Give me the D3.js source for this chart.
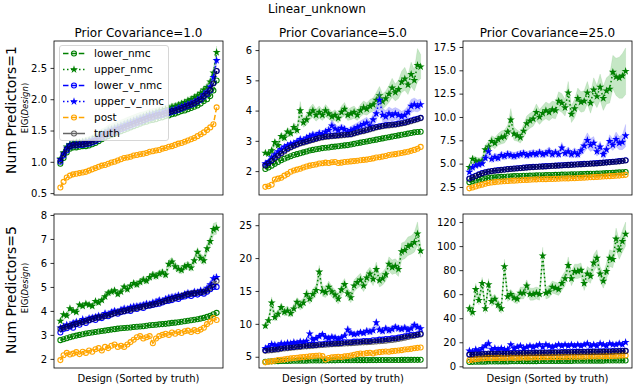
<!DOCTYPE html>
<html>
<head>
<meta charset="utf-8">
<script src="https://cdn.jsdelivr.net/npm/d3@7"></script>
<style>
  body { margin: 0; background: #fff; }
  text { font-family: "DejaVu Sans", sans-serif; fill: #000; }
</style>
</head>
<body>
<svg id="chart" width="634" height="386"></svg>
<script>
/* global d3 */

const suptitle = 'Linear_unknown';
const colTitles = ['Prior Covariance=1.0', 'Prior Covariance=5.0', 'Prior Covariance=25.0'];
const rowTitles = ['Num Predictors=1', 'Num Predictors=5'];
const xLabel = 'Design (Sorted by truth)';
const seriesNames = ['lower_nmc', 'upper_nmc', 'lower_v_nmc', 'upper_v_nmc', 'post', 'truth'];

// y tick labels per panel
const ticks11 = [0.5, 1.0, 1.5, 2.0, 2.5];
const ticks12 = [2, 3, 4, 5, 6];
const ticks13 = [2.5, 5.0, 7.5, 10.0, 12.5, 15.0, 17.5];
const ticks21 = [2, 3, 4, 5, 6, 7, 8];
const ticks22 = [5, 10, 15, 20, 25];
const ticks23 = [0, 20, 40, 60, 80, 100, 120];

// ---- Num Predictors=1, Prior Covariance=1.0
const lowerNmc11 = [0.97,1.06,1.15,1.21,1.23,1.23,1.24,1.25,1.25,1.26,1.28,1.30,1.33,1.36,1.39,1.41,1.43,1.45,1.47,1.49,1.51,1.53,1.55,1.57,1.59,1.61,1.63,1.64,1.66,1.67,1.68,1.70,1.71,1.73,1.74,1.76,1.77,1.79,1.81,1.82,1.84,1.86,1.88,1.90,1.93,1.97,2.00,2.05,2.14,2.30];
const upperNmc11 = [1.05,1.15,1.24,1.28,1.30,1.31,1.31,1.32,1.33,1.34,1.36,1.39,1.41,1.45,1.47,1.50,1.52,1.54,1.56,1.58,1.60,1.62,1.64,1.66,1.68,1.70,1.72,1.74,1.76,1.77,1.79,1.81,1.82,1.84,1.85,1.88,1.89,1.91,1.93,1.95,1.98,2.00,2.03,2.06,2.10,2.15,2.19,2.28,2.42,2.75];
const lowerVNmc11 = [1.00,1.10,1.18,1.24,1.26,1.26,1.27,1.27,1.28,1.29,1.31,1.33,1.36,1.39,1.42,1.44,1.46,1.48,1.50,1.52,1.54,1.56,1.58,1.60,1.62,1.64,1.66,1.68,1.70,1.71,1.73,1.74,1.75,1.77,1.78,1.80,1.81,1.83,1.85,1.87,1.89,1.91,1.93,1.96,1.99,2.04,2.08,2.14,2.26,2.45];
const upperVNmc11 = [1.04,1.13,1.22,1.27,1.28,1.29,1.29,1.30,1.31,1.32,1.34,1.36,1.39,1.42,1.45,1.47,1.49,1.51,1.53,1.55,1.57,1.59,1.61,1.63,1.65,1.67,1.69,1.71,1.73,1.74,1.76,1.77,1.78,1.80,1.81,1.83,1.84,1.86,1.88,1.90,1.92,1.94,1.96,1.99,2.02,2.08,2.12,2.20,2.35,2.62];
const post11 = [0.59,0.68,0.75,0.78,0.80,0.81,0.82,0.83,0.84,0.86,0.88,0.90,0.92,0.94,0.95,0.97,0.99,1.00,1.02,1.04,1.06,1.07,1.08,1.10,1.11,1.12,1.13,1.14,1.16,1.17,1.18,1.19,1.21,1.22,1.24,1.25,1.27,1.29,1.30,1.32,1.34,1.36,1.38,1.41,1.44,1.47,1.51,1.55,1.60,1.87];
const truth11 = [1.02,1.12,1.20,1.25,1.27,1.27,1.28,1.28,1.29,1.30,1.32,1.34,1.37,1.40,1.43,1.45,1.47,1.49,1.51,1.53,1.55,1.57,1.59,1.61,1.63,1.65,1.67,1.69,1.71,1.72,1.74,1.75,1.76,1.78,1.79,1.81,1.82,1.84,1.86,1.88,1.90,1.92,1.94,1.97,2.00,2.05,2.09,2.15,2.25,2.45];
const bandU11 = [0.03,0.03,0.04,0.04,0.04,0.05,0.05,0.05,0.06,0.06,0.07,0.07,0.08,0.08,0.08,0.09,0.09,0.09,0.09,0.09,0.09,0.09,0.09,0.09,0.09,0.09,0.08,0.08,0.08,0.08,0.07,0.07,0.06,0.06,0.06,0.05,0.05,0.05,0.05,0.05,0.05,0.05,0.05,0.05,0.06,0.06,0.06,0.07,0.08,0.10];
const bandV11 = [0.02,0.02,0.03,0.03,0.03,0.04,0.04,0.04,0.05,0.05,0.06,0.06,0.07,0.07,0.07,0.08,0.08,0.08,0.08,0.08,0.08,0.08,0.08,0.08,0.08,0.08,0.07,0.07,0.07,0.07,0.06,0.06,0.05,0.05,0.05,0.04,0.04,0.04,0.04,0.04,0.04,0.04,0.04,0.04,0.05,0.05,0.05,0.06,0.07,0.08];

// ---- Num Predictors=1, Prior Covariance=5.0
const lowerNmc12 = [2.07,2.12,2.18,2.24,2.30,2.36,2.41,2.45,2.49,2.53,2.56,2.59,2.62,2.65,2.68,2.70,2.72,2.74,2.76,2.77,2.78,2.80,2.81,2.82,2.84,2.85,2.86,2.88,2.90,2.92,2.94,2.96,2.98,3.00,3.02,3.04,3.06,3.08,3.10,3.12,3.14,3.16,3.18,3.20,3.22,3.24,3.26,3.28,3.29,3.30];
const upperNmc12 = [2.60,2.58,2.68,2.95,2.85,3.15,3.10,3.30,3.25,3.45,3.35,4.00,3.60,3.70,3.90,4.00,3.85,3.95,3.85,4.00,3.90,3.80,3.85,3.75,3.95,4.05,3.85,3.90,3.95,3.85,4.00,4.10,4.05,4.15,4.20,4.35,4.50,4.30,4.40,4.55,4.75,4.60,4.70,4.95,5.05,4.85,5.20,5.00,5.50,5.45];
const lowerVNmc12 = [2.20,2.28,2.36,2.45,2.53,2.60,2.68,2.75,2.80,2.85,2.89,2.93,2.96,2.99,3.02,3.05,3.08,3.11,3.13,3.15,3.16,3.17,3.18,3.19,3.20,3.21,3.22,3.23,3.26,3.29,3.32,3.34,3.37,3.40,3.43,3.46,3.48,3.50,3.52,3.53,3.54,3.55,3.57,3.59,3.61,3.64,3.67,3.70,3.73,3.76];
const upperVNmc12 = [2.25,2.30,2.45,2.55,2.65,2.72,2.80,2.85,2.90,2.92,2.98,3.05,3.02,3.10,3.15,3.20,3.18,3.25,3.22,3.30,3.35,3.50,3.40,3.35,3.42,3.38,3.30,3.35,3.40,3.45,3.50,3.55,3.60,3.50,3.70,3.90,4.35,3.85,3.80,3.90,3.85,3.90,3.85,3.80,3.85,3.95,4.15,4.20,4.15,4.20];
const post12 = [1.48,1.50,1.55,1.72,1.75,1.78,1.85,1.90,1.98,2.02,2.05,2.08,2.12,2.15,2.18,2.20,2.22,2.25,2.26,2.28,2.27,2.29,2.30,2.27,2.28,2.30,2.31,2.32,2.33,2.34,2.36,2.37,2.38,2.40,2.42,2.45,2.46,2.48,2.50,2.53,2.55,2.56,2.58,2.60,2.62,2.64,2.67,2.70,2.74,2.80];
const truth12 = [2.18,2.25,2.33,2.42,2.50,2.57,2.65,2.72,2.78,2.83,2.87,2.91,2.94,2.97,3.00,3.03,3.06,3.09,3.11,3.13,3.14,3.15,3.16,3.17,3.18,3.19,3.20,3.21,3.24,3.27,3.30,3.32,3.35,3.38,3.41,3.44,3.46,3.48,3.50,3.51,3.52,3.53,3.55,3.57,3.59,3.62,3.65,3.68,3.71,3.75];
const bandU12 = [0.08,0.08,0.10,0.12,0.10,0.12,0.12,0.14,0.12,0.15,0.14,0.30,0.15,0.18,0.20,0.22,0.20,0.20,0.18,0.20,0.18,0.16,0.18,0.16,0.20,0.22,0.18,0.20,0.20,0.18,0.20,0.22,0.20,0.22,0.22,0.25,0.30,0.25,0.25,0.28,0.32,0.28,0.30,0.35,0.38,0.32,0.40,0.35,0.55,0.40];
const bandV12 = [0.05,0.05,0.06,0.06,0.07,0.07,0.08,0.08,0.08,0.08,0.09,0.10,0.09,0.10,0.10,0.11,0.10,0.12,0.11,0.12,0.13,0.20,0.14,0.13,0.14,0.13,0.12,0.13,0.14,0.15,0.16,0.17,0.18,0.16,0.20,0.25,0.30,0.22,0.20,0.22,0.20,0.20,0.20,0.18,0.18,0.20,0.22,0.22,0.20,0.18];

// ---- Num Predictors=1, Prior Covariance=25.0
const lowerNmc13 = [3.00,3.10,3.20,3.28,3.35,3.41,3.46,3.50,3.53,3.56,3.58,3.60,3.62,3.64,3.66,3.67,3.68,3.70,3.71,3.72,3.73,3.74,3.75,3.76,3.77,3.78,3.79,3.80,3.81,3.82,3.83,3.84,3.85,3.86,3.87,3.88,3.89,3.90,3.91,3.92,3.93,3.94,3.96,3.98,4.00,4.02,4.04,4.06,4.08,4.10];
const upperNmc13 = [4.6,5.5,5.3,5.2,5.3,6.5,6.8,7.4,7.2,7.6,7.8,7.9,8.4,9.7,8.2,8.0,7.8,8.5,9.3,9.6,9.8,10.5,10.0,10.4,10.7,10.5,10.8,10.7,11.7,11.5,11.0,12.6,10.3,10.9,12.0,11.6,11.7,12.6,11.5,12.9,12.2,13.2,12.0,12.8,13.0,14.8,14.3,14.2,14.4,14.9];
const lowerVNmc13 = [3.40,3.55,3.70,3.85,3.98,4.08,4.15,4.21,4.26,4.30,4.34,4.38,4.42,4.45,4.48,4.51,4.54,4.57,4.60,4.63,4.65,4.67,4.69,4.71,4.73,4.75,4.77,4.79,4.81,4.83,4.85,4.87,4.89,4.91,4.93,4.95,4.97,4.99,5.01,5.03,5.05,5.08,5.11,5.14,5.17,5.20,5.23,5.27,5.31,5.36];
const upperVNmc13 = [4.1,4.6,4.8,4.9,5.0,5.6,6.3,5.5,5.7,5.6,5.9,5.8,6.0,5.9,5.8,5.9,6.0,6.1,5.9,6.0,6.1,6.0,6.2,6.0,6.1,6.3,6.0,6.2,6.0,6.7,6.1,6.3,6.0,6.2,6.0,6.4,6.9,7.5,7.0,7.2,6.3,6.8,6.0,6.5,7.4,7.0,7.6,7.2,7.3,8.0];
const post13 = [2.35,2.45,2.55,2.65,2.75,2.85,2.92,2.98,3.02,3.06,3.09,3.12,3.14,3.16,3.18,3.20,3.22,3.24,3.26,3.28,3.30,3.31,3.32,3.33,3.34,3.35,3.36,3.37,3.38,3.40,3.41,3.42,3.43,3.44,3.46,3.48,3.50,3.52,3.54,3.56,3.58,3.60,3.62,3.64,3.66,3.68,3.70,3.72,3.75,3.80];
const truth13 = [3.35,3.50,3.65,3.80,3.95,4.05,4.12,4.18,4.23,4.27,4.31,4.35,4.39,4.42,4.45,4.48,4.51,4.54,4.57,4.60,4.62,4.64,4.66,4.68,4.70,4.72,4.74,4.76,4.78,4.80,4.82,4.84,4.86,4.88,4.90,4.92,4.94,4.96,4.98,5.00,5.02,5.05,5.08,5.11,5.14,5.17,5.20,5.24,5.28,5.33];
const bandU13 = [0.3,0.4,0.4,0.4,0.4,0.5,0.6,0.6,0.6,0.6,0.7,0.7,0.7,1.2,0.7,0.6,0.6,0.7,0.8,0.8,0.8,0.9,0.8,0.8,0.9,0.9,0.9,0.9,1.0,1.0,0.9,1.2,0.9,1.0,1.1,1.1,1.1,1.2,1.1,1.3,1.2,1.4,1.3,1.4,1.5,1.8,2.0,2.2,2.4,2.5];
const bandV13 = [0.2,0.3,0.3,0.3,0.3,0.4,0.7,0.4,0.4,0.4,0.4,0.4,0.4,0.4,0.4,0.4,0.4,0.4,0.4,0.4,0.4,0.4,0.4,0.4,0.4,0.5,0.4,0.4,0.4,0.6,0.4,0.5,0.4,0.5,0.4,0.5,0.7,0.8,0.7,0.7,0.5,0.6,0.5,0.6,0.7,0.6,0.8,0.7,0.8,1.2];

// ---- Num Predictors=5, Prior Covariance=1.0
const lowerNmc21 = [2.78,2.82,2.86,2.90,2.94,2.97,3.00,3.03,3.06,3.08,3.10,3.12,3.14,3.16,3.18,3.20,3.22,3.24,3.26,3.28,3.29,3.30,3.31,3.33,3.34,3.35,3.36,3.38,3.40,3.41,3.42,3.44,3.45,3.46,3.48,3.50,3.51,3.53,3.55,3.57,3.59,3.61,3.63,3.65,3.68,3.71,3.75,3.80,3.86,3.92];
const upperNmc21 = [3.58,3.85,3.80,4.10,4.00,3.95,4.25,4.20,4.30,4.25,4.20,4.40,4.35,4.45,4.60,4.75,4.80,4.85,4.70,4.80,5.00,4.90,5.05,5.15,5.10,5.20,5.30,5.25,5.40,5.50,5.45,5.55,5.60,5.50,5.95,6.05,5.85,5.75,5.70,5.85,5.90,5.80,6.10,6.45,6.20,6.10,6.60,6.90,7.40,7.45];
const lowerVNmc21 = [3.10,3.25,3.28,3.35,3.30,3.45,3.42,3.55,3.50,3.60,3.65,3.62,3.72,3.70,3.80,3.78,3.85,3.90,3.88,3.95,3.98,4.02,4.00,4.10,4.08,4.15,4.12,4.20,4.22,4.25,4.28,4.30,4.35,4.40,4.42,4.45,4.52,4.50,4.58,4.60,4.65,4.62,4.70,4.68,4.75,4.72,4.80,4.90,5.00,5.00];
const upperVNmc21 = [3.30,3.35,3.42,3.40,3.50,3.55,3.52,3.65,3.60,3.70,3.72,3.75,3.80,3.78,3.90,3.85,3.95,4.00,3.95,4.05,4.10,4.08,4.15,4.18,4.20,4.22,4.25,4.30,4.28,4.35,4.38,4.45,4.40,4.50,4.55,4.58,4.60,4.65,4.62,4.70,4.75,4.72,4.80,4.78,4.85,4.82,4.95,5.10,5.35,5.40];
const post21 = [1.95,2.15,2.25,2.18,2.22,2.28,2.20,2.30,2.25,2.35,2.30,2.40,2.45,2.35,2.50,2.45,2.55,2.60,2.50,2.55,2.50,2.60,2.70,2.80,2.90,2.95,2.85,2.90,2.95,2.65,2.85,2.95,3.00,3.05,3.00,3.10,3.05,3.12,3.08,3.15,3.18,3.12,3.20,3.15,3.22,3.30,3.45,3.55,3.70,3.62];
const truth21 = [3.25,3.30,3.34,3.38,3.42,3.46,3.50,3.54,3.58,3.62,3.66,3.70,3.73,3.76,3.79,3.82,3.86,3.90,3.94,3.97,4.00,4.03,4.06,4.09,4.12,4.15,4.18,4.21,4.24,4.27,4.30,4.34,4.38,4.42,4.46,4.50,4.54,4.58,4.62,4.66,4.70,4.72,4.74,4.76,4.78,4.80,4.85,4.95,5.10,5.25];
const bandU21 = [0.08,0.08,0.08,0.09,0.09,0.09,0.10,0.10,0.10,0.10,0.10,0.11,0.11,0.11,0.12,0.12,0.12,0.12,0.12,0.12,0.13,0.13,0.13,0.13,0.13,0.14,0.14,0.14,0.14,0.15,0.15,0.15,0.15,0.15,0.18,0.18,0.16,0.16,0.16,0.16,0.16,0.16,0.18,0.20,0.18,0.18,0.20,0.22,0.25,0.25];
const bandV21 = [0.08,0.08,0.09,0.09,0.09,0.10,0.10,0.10,0.10,0.10,0.11,0.11,0.11,0.11,0.12,0.12,0.12,0.12,0.12,0.12,0.12,0.12,0.12,0.12,0.12,0.12,0.12,0.12,0.12,0.12,0.12,0.12,0.12,0.12,0.12,0.12,0.12,0.12,0.12,0.12,0.12,0.12,0.12,0.12,0.12,0.12,0.13,0.14,0.15,0.15];

// ---- Num Predictors=5, Prior Covariance=5.0
const lowerNmc22 = [4.25,4.28,4.30,4.32,4.33,4.35,4.36,4.37,4.38,4.39,4.40,4.40,4.41,4.41,4.42,4.42,4.43,4.43,4.44,4.44,4.45,4.45,4.45,4.46,4.46,4.46,4.47,4.47,4.47,4.48,4.48,4.48,4.48,4.49,4.49,4.49,4.50,4.50,4.50,4.50,4.51,4.51,4.51,4.52,4.52,4.52,4.53,4.53,4.53,4.54];
const upperNmc22 = [9.7,10.5,13.2,11.0,11.5,12.5,11.8,12.0,11.6,12.3,13.3,12.8,13.2,14.5,13.8,14.5,15.1,17.9,15.0,14.8,15.6,14.9,14.4,13.8,15.2,16.0,14.6,14.0,15.8,16.3,16.7,15.8,17.0,17.6,16.8,18.3,16.6,16.9,17.5,19.1,18.6,18.8,18.3,21.0,21.2,21.8,22.0,22.4,23.7,21.1];
const lowerVNmc22 = [6.0,6.1,6.1,6.2,6.2,6.3,6.4,6.4,6.5,6.5,6.6,6.6,6.7,6.7,6.8,6.8,6.8,6.9,6.9,7.0,7.0,7.0,7.1,7.1,7.1,7.2,7.2,7.2,7.3,7.3,7.3,7.4,7.4,7.4,7.5,7.5,7.6,7.6,7.7,7.7,7.8,7.8,7.9,8.0,8.1,8.2,8.3,8.3,8.4,8.5];
const upperVNmc22 = [6.3,6.5,6.9,6.8,6.7,7.0,6.9,7.1,7.0,7.2,7.1,7.3,7.2,7.4,8.5,7.6,7.8,8.1,8.4,8.0,7.8,8.0,7.9,7.7,7.9,8.2,9.1,8.6,8.4,8.5,8.7,8.6,8.9,8.8,9.0,10.2,9.1,8.9,9.3,9.0,9.2,9.5,9.3,9.2,9.4,9.1,9.3,9.8,9.5,9.3];
const post22 = [4.15,4.25,4.30,4.40,4.50,4.55,4.60,4.70,4.75,4.80,4.85,4.90,4.95,5.00,5.05,5.10,5.15,5.20,5.10,4.60,4.80,4.90,4.95,5.00,4.95,5.05,5.10,5.20,5.30,5.40,5.50,5.45,5.55,5.60,5.50,5.65,5.70,5.75,5.80,5.75,5.85,5.90,5.95,6.00,6.10,6.15,6.20,6.30,6.35,6.40];
const truth22 = [5.90,5.95,6.00,6.05,6.10,6.20,6.25,6.30,6.35,6.40,6.45,6.50,6.55,6.58,6.62,6.66,6.70,6.74,6.78,6.82,6.86,6.89,6.92,6.95,6.98,7.01,7.04,7.07,7.10,7.13,7.16,7.19,7.22,7.25,7.28,7.32,7.36,7.40,7.45,7.50,7.55,7.62,7.70,7.80,7.90,8.00,8.10,8.20,8.30,8.40];
const bandU22 = [0.5,0.6,0.9,0.6,0.6,0.7,0.6,0.7,0.6,0.7,0.7,0.7,0.7,0.8,0.8,0.8,0.8,1.0,0.8,0.8,0.9,0.8,0.8,0.8,0.9,0.9,0.8,0.8,0.9,0.9,1.0,0.9,1.0,1.0,1.0,1.1,1.0,1.0,1.0,1.1,1.1,1.1,1.1,1.3,1.3,1.4,1.4,1.5,1.8,1.0];
const bandV22 = [0.3,0.3,0.3,0.3,0.3,0.3,0.3,0.3,0.3,0.3,0.3,0.3,0.3,0.3,0.6,0.3,0.4,0.4,0.4,0.4,0.4,0.4,0.4,0.4,0.4,0.4,0.7,0.5,0.4,0.4,0.4,0.4,0.5,0.5,0.5,0.6,0.5,0.5,0.5,0.5,0.5,0.5,0.5,0.5,0.5,0.5,0.5,0.6,0.5,0.5];

// ---- Num Predictors=5, Prior Covariance=25.0
const lowerNmc23 = [3.6,3.7,3.8,3.8,3.9,3.9,4.0,4.0,4.0,4.1,4.1,4.1,4.1,4.2,4.2,4.2,4.2,4.3,4.3,4.3,4.3,4.3,4.4,4.4,4.4,4.4,4.4,4.5,4.5,4.5,4.5,4.5,4.5,4.6,4.6,4.6,4.6,4.6,4.7,4.7,4.7,4.7,4.7,4.8,4.8,4.8,4.8,4.9,4.9,4.9];
const upperNmc23 = [48,45,64,55,69,48,68,54,56,51,48,83,58,60,57,56,61,61,67,60,60,61,60,92,61,62,66,65,64,69,73,84,73,79,79,80,69,77,75,86,90,77,71,79,90,89,106,97,104,110];
const lowerVNmc23 = [10.0,10.1,10.2,10.3,10.4,10.5,10.6,10.7,10.7,10.8,10.9,10.9,11.0,11.0,11.1,11.1,11.2,11.2,11.3,11.3,11.4,11.4,11.5,11.5,11.5,11.6,11.6,11.7,11.7,11.8,11.8,11.9,11.9,12.0,12.0,12.1,12.1,12.2,12.2,12.3,12.3,12.4,12.4,12.5,12.5,12.6,12.7,12.8,12.9,13.0];
const upperVNmc23 = [13,12,14,13,15,17,19,14,15,14,15,14,14,18,15,16,17,15,16,17,16,17,18,16,18,17,16,17,18,17,18,17,18,17,18,17,18,19,17,18,17,19,18,17,19,18,18,19,18,20];
const post23 = [5.0,5.5,6.0,6.2,6.5,6.8,7.0,6.8,6.9,7.0,7.0,6.9,7.1,7.2,7.0,7.1,7.2,7.3,7.2,7.4,7.3,7.5,7.4,7.6,7.5,7.6,7.7,7.6,7.8,7.7,7.9,7.8,8.0,7.9,8.0,8.1,8.0,8.2,8.1,8.3,8.2,8.4,8.3,8.5,8.4,8.6,8.7,8.8,8.9,9.0];
const truth23 = [9.5,9.6,9.7,9.8,9.9,10.0,10.1,10.2,10.3,10.3,10.4,10.5,10.5,10.6,10.6,10.7,10.7,10.8,10.8,10.9,10.9,11.0,11.0,11.0,11.1,11.1,11.2,11.2,11.3,11.3,11.4,11.4,11.5,11.5,11.6,11.6,11.7,11.7,11.8,11.8,11.9,11.9,12.0,12.0,12.1,12.2,12.3,12.4,12.5,12.6];
const bandU23 = [4,4,5,4,5,4,5,4,4,4,4,6,4,4,4,4,5,5,5,5,5,5,5,7,5,5,5,5,5,6,6,7,6,6,6,6,6,6,6,7,7,6,6,7,7,7,9,8,9,10];
const bandV23 = [1.5,1.5,1.5,1.5,2,2.5,3.5,1.5,1.5,1.5,1.5,1.5,1.5,2,1.5,1.5,1.5,1.5,1.5,1.5,1.5,1.5,2,1.5,2,1.5,1.5,1.5,1.5,1.5,1.5,1.5,1.5,1.5,1.5,1.5,1.5,2,1.5,1.5,1.5,1.5,1.5,1.5,1.5,1.5,1.5,2,1.5,1.5];

// series styling (matplotlib-ish)
const styles = {
  lower_nmc:   { color: 'green',  dash: '5.5,2.4', marker: 'circle' },
  upper_nmc:   { color: 'green',  dash: '1.5,2.5', marker: 'star' },
  lower_v_nmc: { color: 'blue',   dash: '5.5,2.4', marker: 'circle' },
  upper_v_nmc: { color: 'blue',   dash: '1.5,2.5', marker: 'star' },
  post:        { color: 'orange', dash: '5.5,2.4', marker: 'circle' },
  truth:       { color: 'black',  dash: null, marker: 'circle', opacity: 0.6 },
};

const panels = [
  { row: 0, col: 0, domain: [0.47, 2.93], ticks: ticks11, fmt: '.1f',
    lines: [lowerNmc11, upperNmc11, lowerVNmc11, upperVNmc11, post11, truth11], bands: { upper_nmc: bandU11, upper_v_nmc: bandV11 } },
  { row: 0, col: 1, domain: [1.21, 6.3], ticks: ticks12, fmt: 'd',
    lines: [lowerNmc12, upperNmc12, lowerVNmc12, upperVNmc12, post12, truth12], bands: { upper_nmc: bandU12, upper_v_nmc: bandV12 } },
  { row: 0, col: 2, domain: [1.64, 18.14], ticks: ticks13, fmt: '.1f',
    lines: [lowerNmc13, upperNmc13, lowerVNmc13, upperVNmc13, post13, truth13], bands: { upper_nmc: bandU13, upper_v_nmc: bandV13 } },
  { row: 1, col: 0, domain: [1.62, 8.04], ticks: ticks21, fmt: 'd',
    lines: [lowerNmc21, upperNmc21, lowerVNmc21, upperVNmc21, post21, truth21], bands: { upper_nmc: bandU21, upper_v_nmc: bandV21 } },
  { row: 1, col: 1, domain: [3.29, 26.7], ticks: ticks22, fmt: 'd',
    lines: [lowerNmc22, upperNmc22, lowerVNmc22, upperVNmc22, post22, truth22], bands: { upper_nmc: bandU22, upper_v_nmc: bandV22 } },
  { row: 1, col: 2, domain: [-1.4, 126.7], ticks: ticks23, fmt: 'd',
    lines: [lowerNmc23, upperNmc23, lowerVNmc23, upperVNmc23, post23, truth23], bands: { upper_nmc: bandU23, upper_v_nmc: bandV23 } },
];

const colX = [[54, 223], [259, 427], [463, 632]];
const rowY = [[41, 195], [214, 368]];

const svg = d3.select('#chart');
const star = d3.symbol().type(d3.symbolStar).size(20);

function drawMarker(sel, s, px, py) {
  if (s.marker === 'star') {
    sel.append('path')
      .attr('d', star)
      .attr('transform', `translate(${px},${py})`)
      .attr('fill', s.color);
  } else {
    sel.append('circle')
      .attr('cx', px).attr('cy', py).attr('r', 2.5)
      .attr('fill', 'none')
      .attr('stroke', s.color)
      .attr('stroke-width', 1.1);
  }
}

panels.forEach((p, pi) => {
  const [x0, x1] = colX[p.col];
  const [y0, y1] = rowY[p.row];
  const x = d3.scaleLinear().domain([-2, 51]).range([x0, x1]);
  const y = d3.scaleLinear().domain(p.domain).range([y1, y0]);

  svg.append('clipPath').attr('id', `clip${pi}`)
    .append('rect').attr('x', x0).attr('y', y0).attr('width', x1 - x0).attr('height', y1 - y0);

  const g = svg.append('g').attr('clip-path', `url(#clip${pi})`);

  seriesNames.forEach((name, si) => {
    const s = styles[name];
    const vals = p.lines[si];
    const band = p.bands[name];
    if (band) {
      g.append('path')
        .attr('d', d3.area()
          .x((d, i) => x(i))
          .y0((d, i) => y(d - band[i]))
          .y1((d, i) => y(d + band[i]))(vals))
        .attr('fill', s.color === 'green' ? '#7fc97f' : '#8080ff')
        .attr('fill-opacity', 0.45)
        .attr('stroke', s.color)
        .attr('stroke-opacity', 0.15)
        .attr('stroke-width', 0.6);
    }
    const sg = g.append('g').attr('opacity', s.opacity || 1);
    sg.append('path')
      .attr('d', d3.line().x((d, i) => x(i)).y(d => y(d))(vals))
      .attr('fill', 'none')
      .attr('stroke', s.color)
      .attr('stroke-width', 1.5)
      .attr('stroke-dasharray', s.dash);
    vals.forEach((d, i) => drawMarker(sg, s, x(i), y(d)));
  });

  // frame
  svg.append('rect')
    .attr('x', x0).attr('y', y0).attr('width', x1 - x0).attr('height', y1 - y0)
    .attr('fill', 'none').attr('stroke', '#000').attr('stroke-width', 0.8);

  const axis = svg.append('g')
    .attr('transform', `translate(${x0},0)`)
    .call(d3.axisLeft(y).tickValues(p.ticks).tickFormat(d3.format(p.fmt))
      .tickSize(3.5).tickPadding(3.5));
  axis.select('.domain').remove();
  axis.selectAll('.tick line').attr('stroke', '#000').attr('stroke-width', 0.8);
  axis.selectAll('.tick text').attr('font-size', 10).attr('font-family', '"DejaVu Sans", sans-serif').attr('fill', '#000');
});

// titles
svg.append('text').attr('x', 317).attr('y', 13).attr('text-anchor', 'middle')
  .attr('font-size', 12).text(suptitle);

colTitles.forEach((t, i) => {
  svg.append('text')
    .attr('x', (colX[i][0] + colX[i][1]) / 2).attr('y', 37)
    .attr('text-anchor', 'middle').attr('font-size', 12).text(t);
  svg.append('text')
    .attr('x', (colX[i][0] + colX[i][1]) / 2).attr('y', 382)
    .attr('text-anchor', 'middle').attr('font-size', 10).text(xLabel);
});

const rowCenters = [110, 290];
rowTitles.forEach((t, i) => {
  svg.append('text')
    .attr('transform', `translate(16,${rowCenters[i]}) rotate(-90)`)
    .attr('text-anchor', 'middle').attr('font-size', 14).text(t);
  const lab = svg.append('text')
    .attr('transform', `translate(28,${rowCenters[i] - 2}) rotate(-90)`)
    .attr('text-anchor', 'middle').attr('font-size', 8.5);
  lab.append('tspan').text('EIG(');
  lab.append('tspan').attr('font-style', 'italic').text('Design');
  lab.append('tspan').text(')');
});

// legend in first panel
const legend = svg.append('g');
legend.append('rect')
  .attr('x', 59.5).attr('y', 45.5).attr('width', 109).attr('height', 95).attr('rx', 2.5)
  .attr('fill', '#fff').attr('fill-opacity', 0.8)
  .attr('stroke', '#ccc').attr('stroke-width', 0.8);
seriesNames.forEach((name, i) => {
  const s = styles[name];
  const ly = 53.5 + i * 16;
  const lg = legend.append('g').attr('opacity', s.opacity || 1);
  lg.append('line')
    .attr('x1', 63).attr('x2', 85).attr('y1', ly).attr('y2', ly)
    .attr('stroke', s.color).attr('stroke-width', 1.5)
    .attr('stroke-dasharray', s.dash);
  drawMarker(lg, s, 74, ly);
  legend.append('text').attr('x', 94).attr('y', ly + 3.6)
    .attr('font-size', 10.5).text(name);
});
</script>
</body>
</html>
